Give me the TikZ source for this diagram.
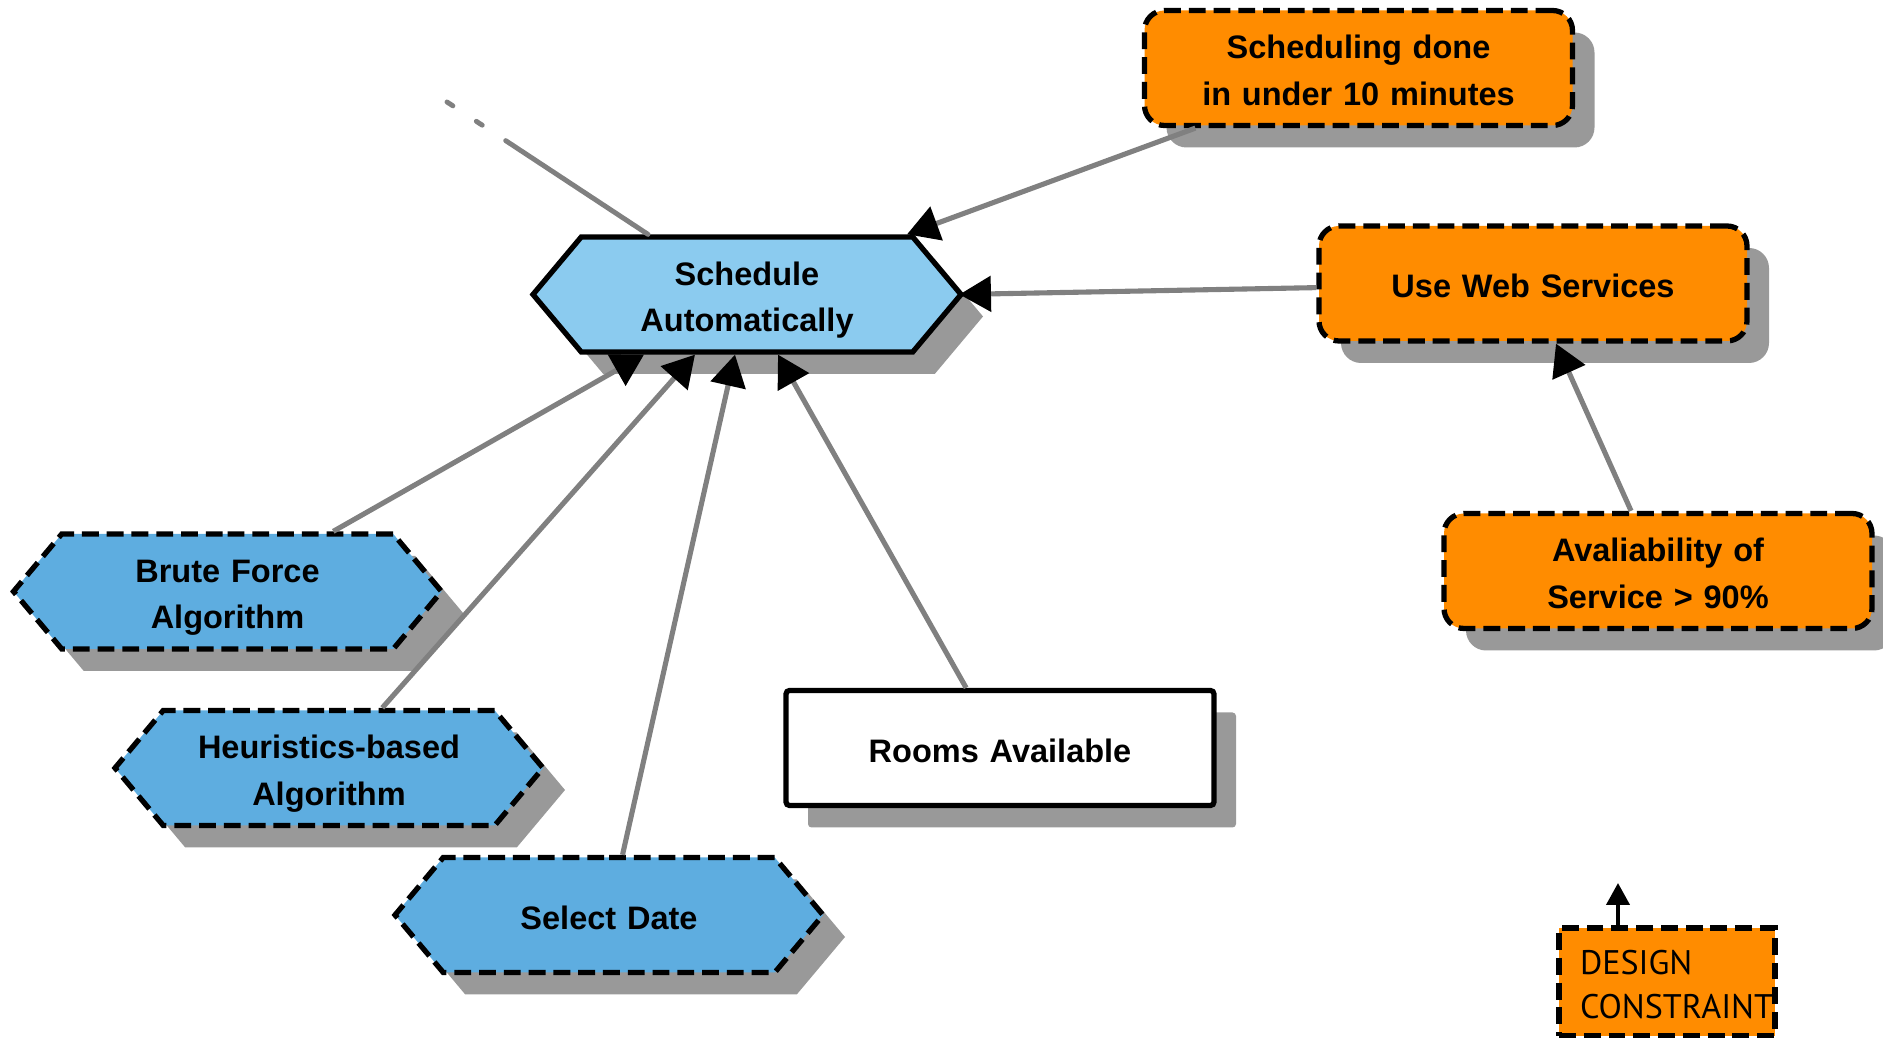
\documentclass[tikz,border=0pt]{standalone}
\usepackage{fontspec}
\setmainfont{Liberation Sans}
\newfontfamily\tagfont{PT Sans}
\usepackage{tikz}
\usetikzlibrary{arrows.meta,positioning,shapes.symbols,shadows}
\definecolor{goalblue}{RGB}{139,203,239}
\definecolor{taskblue}{RGB}{94,173,224}
\definecolor{softorange}{RGB}{255,140,0}
\definecolor{shade}{RGB}{153,153,153}
\definecolor{wire}{RGB}{128,128,128}

\begin{document}
\begin{tikzpicture}[x=1cm,y=1cm,
    every node/.style={font=\fontsize{18.5}{26.6}\selectfont\bfseries,align=center,
                       execute at begin node={\rule{0pt}{21pt}},
                       execute at end node={\rule[-5pt]{0pt}{5pt}}},
    box/.style={minimum width=8.56cm,minimum height=2.3cm,inner sep=0pt,line width=3pt,
                text width=7.5cm,
                drop shadow={shadow xshift=0.44cm,shadow yshift=-0.44cm,fill=shade,opacity=1}},
    hexa/.style={box,text width=6.2cm,signal,signal to=west and east,signal pointer angle=100},
    goal/.style={hexa,draw,fill=goalblue},
    task/.style={hexa,draw,dash pattern=on 9.6pt off 4.5pt,fill=taskblue},
    softgoal/.style={box,draw,dash pattern=on 9.6pt off 4.5pt,rounded corners=0.4cm,
                     fill=softorange},
    resource/.style={box,draw,rounded corners=2pt,fill=white},
    legendbox/.style={draw,line width=3pt,dash pattern=on 9.6pt off 4.5pt,fill=softorange,
                      minimum width=4.32cm,minimum height=2.16cm,inner xsep=0.42cm,
                      text width=3.48cm,align=left,
                      font=\tagfont\mdseries\fontsize{19.4}{25}\selectfont},
    link/.style={draw=wire,line width=2.9pt,
                 -{Triangle[length=0.63cm,width=0.7cm,color=black]}}]
    \useasboundingbox (0,0) rectangle (37.66,20.76);

    \node[goal] (sched) at (14.94,14.87) {Schedule\\Automatically};
    \node[softgoal] (quick) at (27.17,19.40) {Scheduling done\\in under 10 minutes};
    \node[softgoal] (websvc) at (30.66,15.09) {Use Web Services};
    \node[softgoal] (uptime) at (33.16,9.34) {Avaliability of\\Service > 90\%};
    \node[task] (brute) at (4.55,8.93) {Brute Force\\Algorithm};
    \node[task] (heur) at (6.58,5.40) {Heuristics-based\\Algorithm};
    \node[task] (date) at (12.18,2.46) {Select Date};
    \node[resource] (rooms) at (20.0,5.80) {Rooms Available};
    \node[legendbox] (legend) at (33.34,1.12) {DESIGN\\CONSTRAINT};

    \draw[link] (quick) -- ([xshift=3.2cm]sched.north);
    \draw[link] (websvc) -- ([xshift=-0.1cm]sched.east);
    \draw[link] (uptime) -- ([xshift=0.46cm]websvc.south);
    \draw[link] (brute) -- ([xshift=-2.06cm]sched.south);
    \draw[link] (heur) -- ([xshift=-1.04cm]sched.south);
    \draw[link] (date) -- ([xshift=-0.24cm]sched.south);
    \draw[link] (rooms) -- ([xshift=0.62cm]sched.south);

    \coordinate (offpage) at (8.94,18.72);
    \draw[draw=wire,line width=2.8pt,line cap=round,
          dash pattern=on 4pt off 16pt on 4pt off 16pt on 400pt]
        (offpage) -- ([xshift=-1.98cm]sched.north);

    \coordinate (legendtip) at (32.36,3.10);
    \draw[line width=2.3pt,-{Triangle[length=0.44cm,width=0.46cm]}]
        ([xshift=-0.98cm]legend.north) -- (legendtip);
\end{tikzpicture}
\end{document}
